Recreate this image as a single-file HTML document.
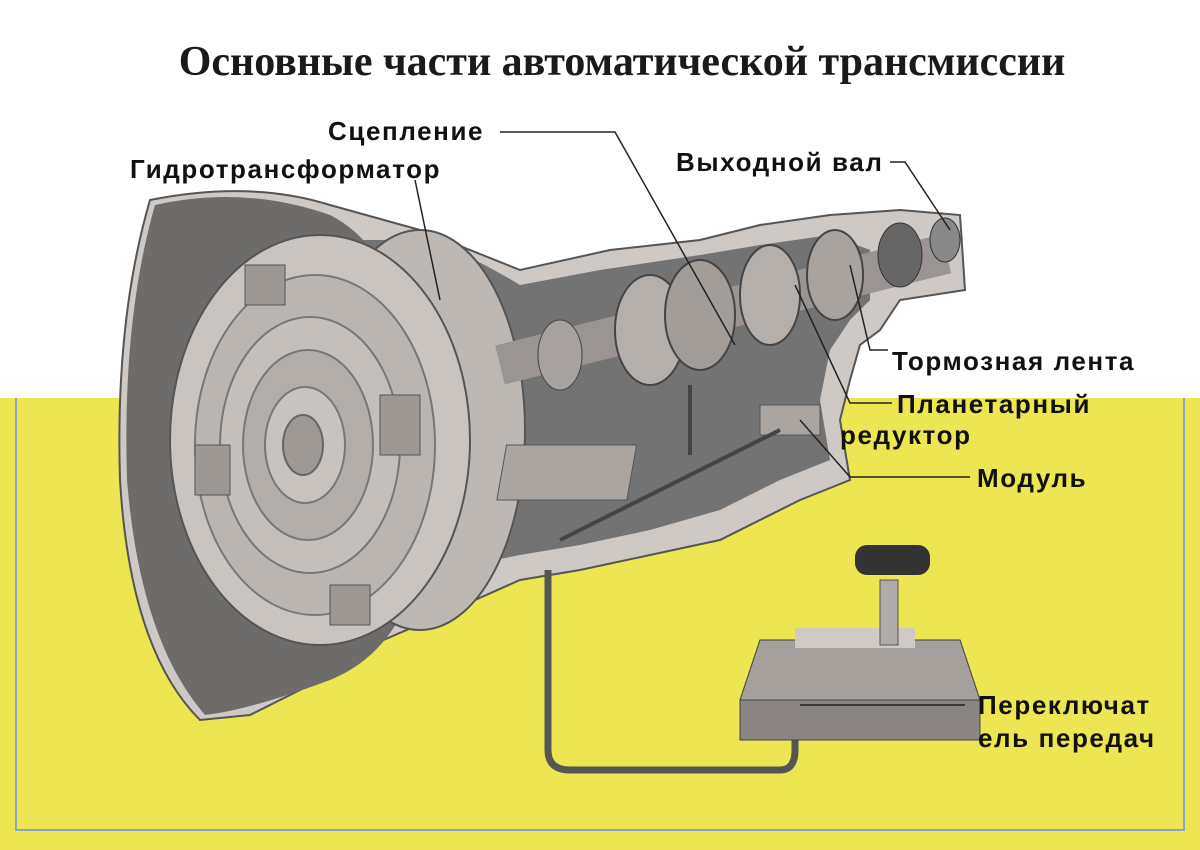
<!DOCTYPE html>
<html><head><meta charset="utf-8"><style>
body{margin:0;width:1200px;height:850px;overflow:hidden;background:#fff}
svg{display:block}
.l{font-family:"Liberation Sans","DejaVu Sans",sans-serif;font-weight:bold;font-size:26px;letter-spacing:1.6px;fill:#111}
</style></head><body>
<svg width="1200" height="850" viewBox="0 0 1200 850">
<rect x="0" y="0" width="1200" height="398" fill="#fff"/>
<rect x="0" y="398" width="1200" height="452" fill="#ebe651"/>
<path d="M16 398 V830 H1184 V398" fill="none" stroke="#8aa6c8" stroke-width="2"/>
<text x="622" y="75" text-anchor="middle" font-family="Liberation Serif,serif" font-weight="bold" font-size="42" fill="#1a1a1a">Основные части автоматической трансмиссии</text>
<path d="M150 200 Q250 180 330 205 L420 230 Q470 250 520 270 L610 250 L700 240 L760 225 L830 215 L900 210 L960 215 L965 290 L900 300 L880 330 L860 345 L850 380 L840 420 L850 480 L800 500 L760 520 L720 540 L650 555 L580 570 L520 580 L430 620 L360 650 L300 690 L250 715 L200 720 Q130 650 120 480 Q115 320 150 200Z" fill="#cfc9c5" stroke="#555" stroke-width="2"/>
<path d="M250 240 L430 240 Q470 255 520 285 L600 270 L700 255 L760 245 L830 235 L870 250 L870 300 L850 320 L830 350 L820 400 L830 460 L780 480 L720 510 L650 530 L580 545 L520 555 L470 565 L420 600 Z" fill="#747374"/>
<path d="M155 205 Q245 185 330 215 Q420 260 430 470 Q430 640 330 680 Q250 710 205 715 Q140 640 127 480 Q122 320 155 205Z" fill="#6e6c6b"/>
<ellipse cx="420" cy="430" rx="105" ry="200" fill="#bdb8b4" stroke="#555" stroke-width="2"/>
<ellipse cx="320" cy="440" rx="150" ry="205" fill="#c9c4c0" stroke="#555" stroke-width="2"/>
<ellipse cx="315" cy="445" rx="120" ry="170" fill="#bab5b1" stroke="#777" stroke-width="2"/>
<ellipse cx="310" cy="445" rx="90" ry="128" fill="#c4bfbb" stroke="#777" stroke-width="2"/>
<ellipse cx="308" cy="445" rx="65" ry="95" fill="#b2ada9" stroke="#777" stroke-width="2"/>
<ellipse cx="305" cy="445" rx="40" ry="58" fill="#c8c3bf" stroke="#777" stroke-width="2"/>
<ellipse cx="303" cy="445" rx="20" ry="30" fill="#9e9995" stroke="#666" stroke-width="2"/>
<rect x="380" y="395" width="40" height="60" fill="#9d9894" stroke="#555"/>
<rect x="195" y="445" width="35" height="50" fill="#9d9894" stroke="#555"/>
<rect x="330" y="585" width="40" height="40" fill="#9d9894" stroke="#555"/>
<rect x="245" y="265" width="40" height="40" fill="#9d9894" stroke="#555"/>
<rect x="500" y="345" width="460" height="40" fill="#9a9592" transform="rotate(-14 500 365)"/>
<ellipse cx="560" cy="355" rx="22" ry="35" fill="#a7a29f" stroke="#444"/>
<ellipse cx="650" cy="330" rx="35" ry="55" fill="#b4afab" stroke="#444" stroke-width="2"/>
<ellipse cx="700" cy="315" rx="35" ry="55" fill="#a29d99" stroke="#444" stroke-width="2"/>
<ellipse cx="770" cy="295" rx="30" ry="50" fill="#b4afab" stroke="#444" stroke-width="2"/>
<ellipse cx="835" cy="275" rx="28" ry="45" fill="#a8a39f" stroke="#444" stroke-width="2"/>
<ellipse cx="900" cy="255" rx="22" ry="32" fill="#666" stroke="#333"/>
<ellipse cx="945" cy="240" rx="15" ry="22" fill="#888" stroke="#333"/>
<rect x="585" y="445" width="130" height="55" fill="#aaa5a1" stroke="#555" transform="skewX(-10)"/>
<rect x="760" y="405" width="60" height="30" fill="#aaa5a1" stroke="#555"/>
<line x1="690" y1="385" x2="690" y2="455" stroke="#444" stroke-width="4"/>
<line x1="560" y1="540" x2="780" y2="430" stroke="#444" stroke-width="4"/>
<path d="M548 570 V750 Q548 770 570 770 H780 Q795 770 795 750 V730" fill="none" stroke="#555" stroke-width="7"/>
<path d="M760 640 L960 640 L980 700 L980 740 L740 740 L740 700Z" fill="#8a8582" stroke="#444"/>
<path d="M760 640 L960 640 L980 700 L740 700Z" fill="#a5a09c" stroke="#444"/>
<rect x="795" y="628" width="120" height="20" fill="#cfcac6"/>
<rect x="880" y="580" width="18" height="65" fill="#b0aba7" stroke="#555"/>
<rect x="855" y="545" width="75" height="30" rx="12" fill="#333"/>
<g class="l">
<text x="328" y="140">Сцепление</text>
<text x="130" y="178">Гидротрансформатор</text>
<text x="676" y="171">Выходной вал</text>
<text x="892" y="370">Тормозная лента</text>
<text x="897" y="413">Планетарный</text>
<text x="840" y="444">редуктор</text>
<text x="977" y="487">Модуль</text>
<text x="978" y="714">Переключат</text>
<text x="978" y="747">ель передач</text>
</g>
<g stroke="#222" stroke-width="1.5" fill="none">
<path d="M500 132 H615 L735 345"/>
<path d="M415 180 L440 300"/>
<path d="M890 162 H905 L950 230"/>
<path d="M888 350 H870 L850 265"/>
<path d="M892 403 H850 L795 285"/>
<path d="M970 477 H850 L800 420"/>
<path d="M965 705 H800"/>
</g>
</svg>
</body></html>
